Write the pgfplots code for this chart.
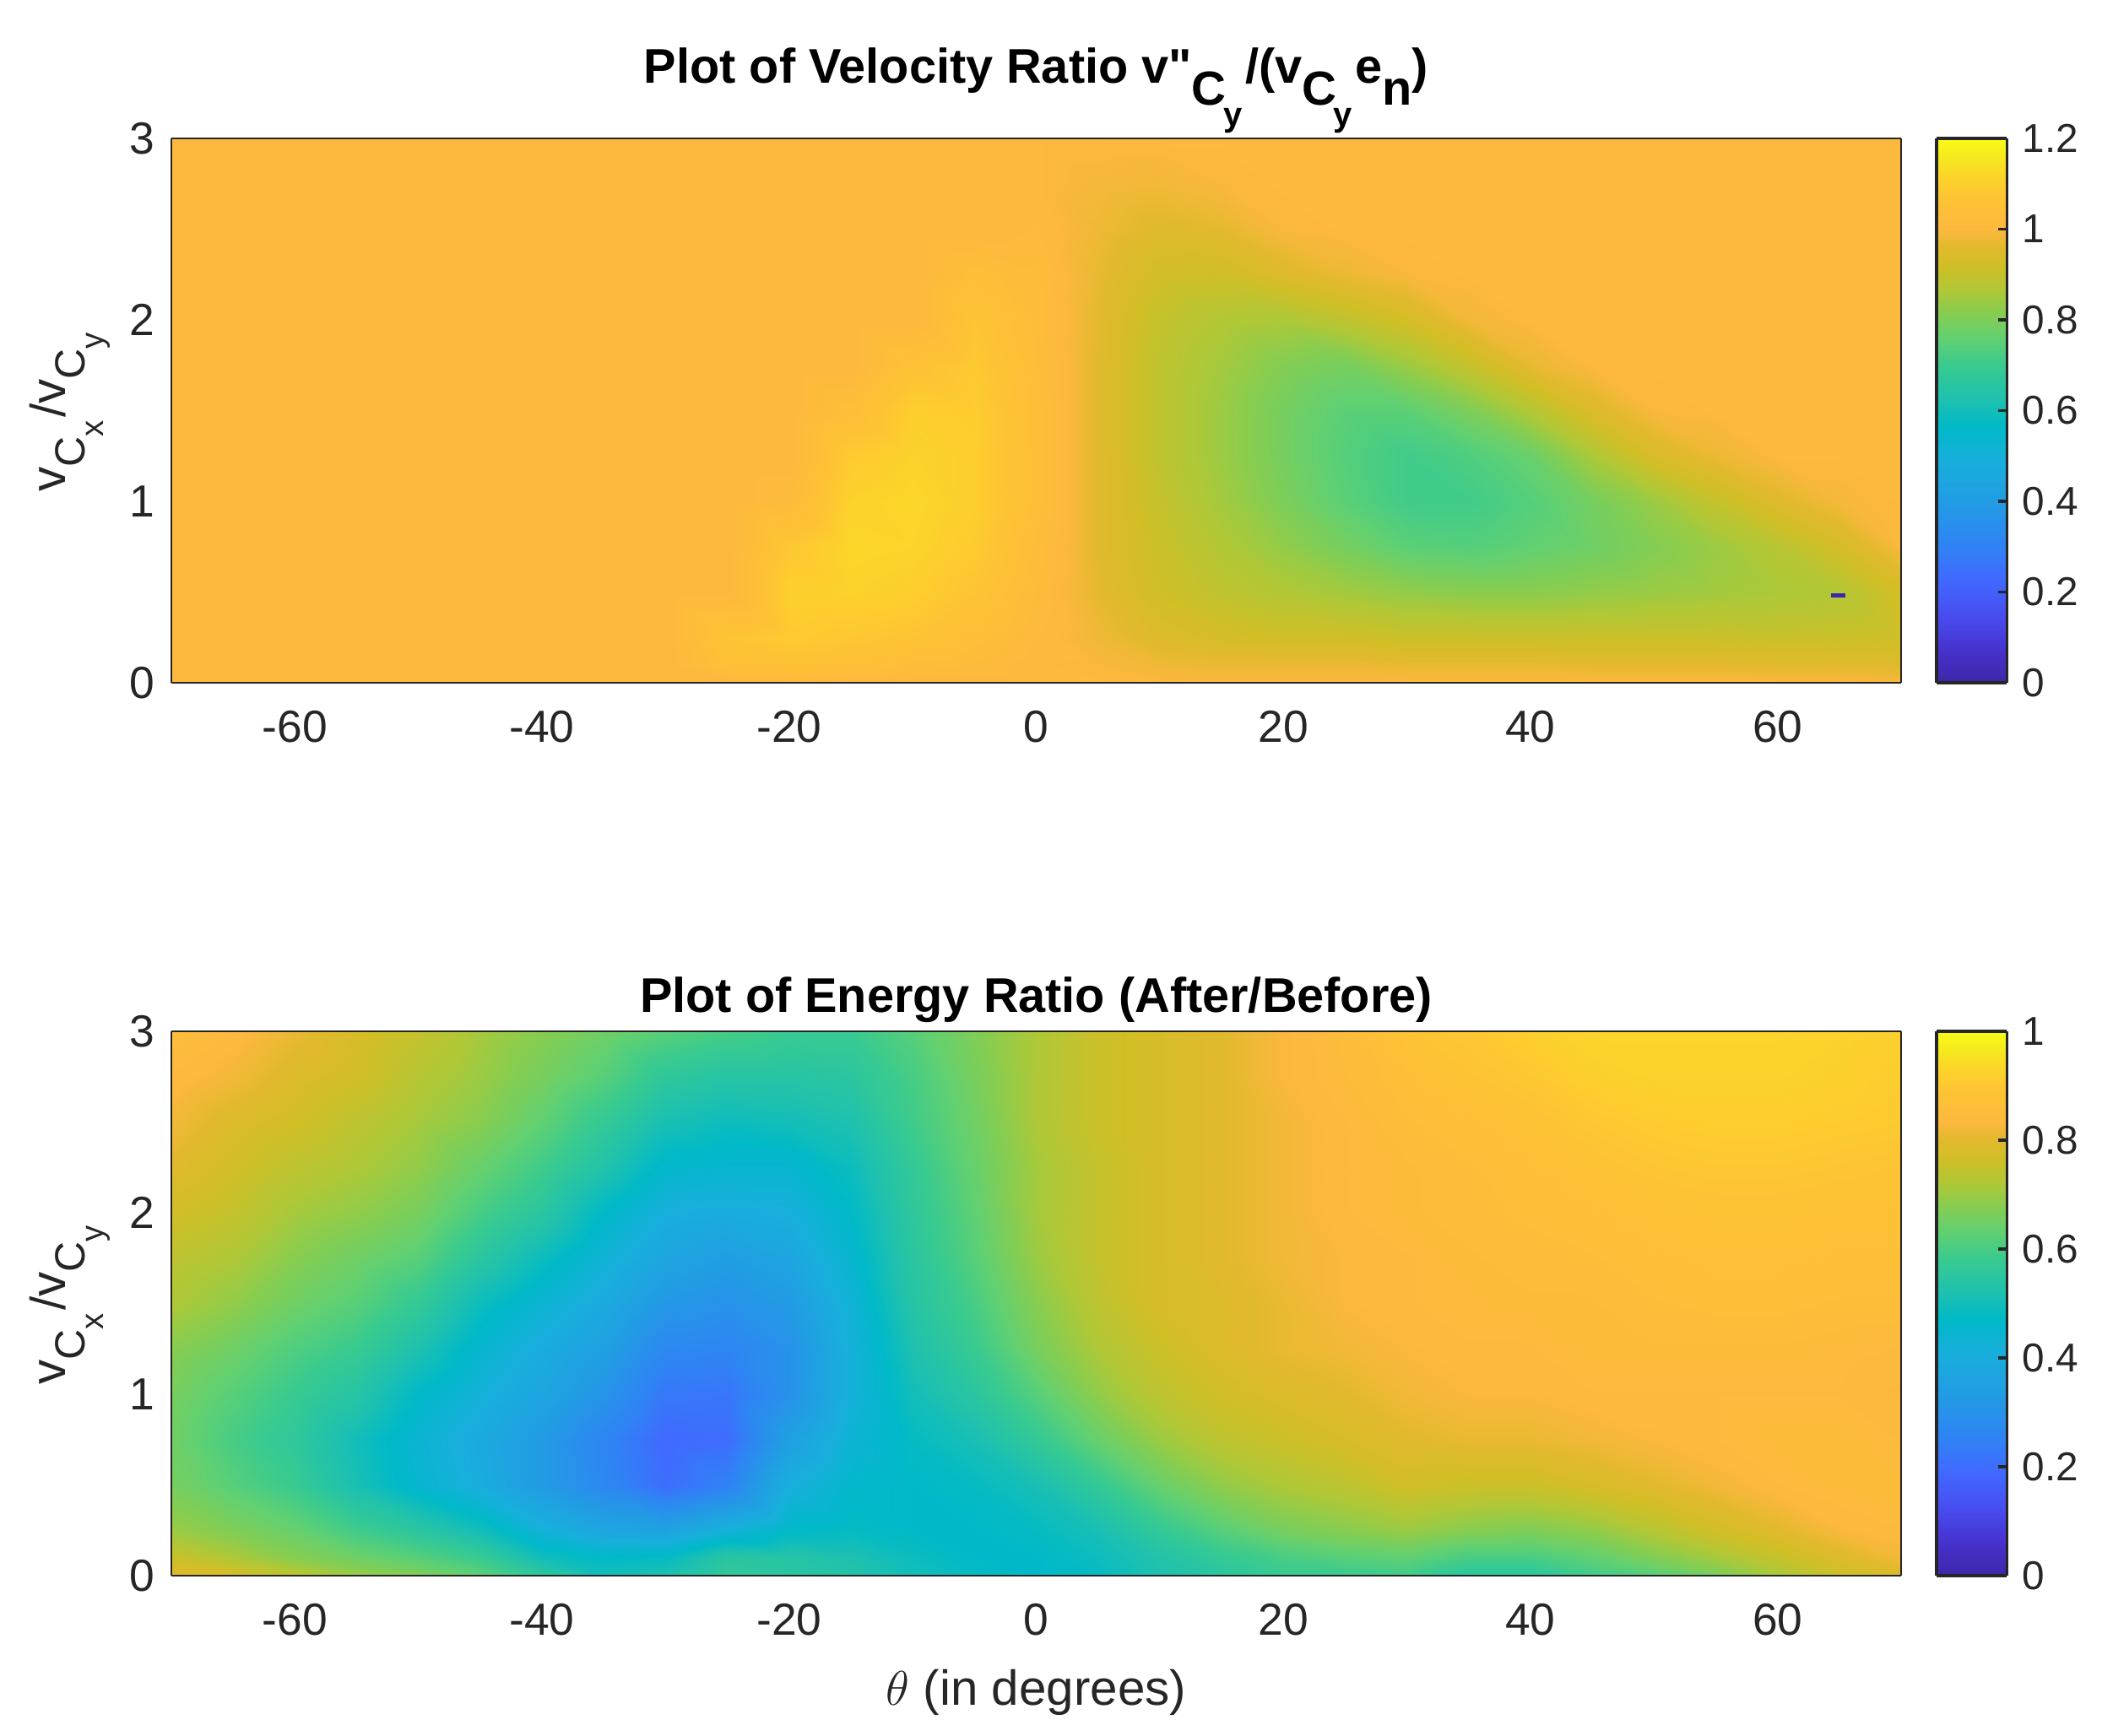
\documentclass[border=0pt]{standalone}
\usepackage{fontspec}
\setmainfont{Liberation Sans}[Ligatures=TeXOff]
\usepackage{pgfplots}
\pgfplotsset{compat=1.18}

\definecolor{txt}{RGB}{38,38,38}

\newcommand{\subC}[1]{\raisebox{-7pt}[0pt][0pt]{\fontsize{15}{15}\selectfont C\raisebox{-6.5pt}[0pt][0pt]{\fontsize{11.5}{11.5}\selectfont #1}\hspace{1pt}}}
\newcommand{\subB}[1]{\raisebox{-7.7pt}[0pt][0pt]{\fontsize{17}{17}\selectfont C\hspace{-1pt}\raisebox{-7.5pt}[0pt][0pt]{\fontsize{12}{12}\selectfont #1}\hspace{1pt}}}

\pgfplotsset{
  colormap={brightparula}{
    rgb255(0pt)=(62,38,168) rgb255(6pt)=(70,50,205) rgb255(12pt)=(72,75,238)
    rgb255(19pt)=(65,105,255) rgb255(25pt)=(48,130,245) rgb255(33pt)=(34,155,228)
    rgb255(41pt)=(24,175,220) rgb255(47pt)=(0,185,200) rgb255(52pt)=(30,193,175)
    rgb255(58pt)=(55,202,145) rgb255(63pt)=(95,208,115) rgb255(68pt)=(135,205,80)
    rgb255(72pt)=(175,200,55) rgb255(77pt)=(210,190,38) rgb255(80pt)=(225,185,45)
    rgb255(83.3pt)=(253,184,62) rgb255(89pt)=(254,195,52) rgb255(93pt)=(252,212,42)
    rgb255(97pt)=(245,235,28) rgb255(100pt)=(249,251,20)
  },
  cbar/.style={
    at={(parent axis.north east)}, anchor=north west, xshift=4.07pt,
    width=25pt, samples=201,
    ytick pos=right, tick align=inside, major tick length=3pt,
    tick style={draw=txt, line width=1pt}, axis line style={draw=txt, line width=1pt},
    yticklabel pos=right,
    yticklabel style={font=\fontsize{14.3}{16}\selectfont, text=txt, /pgf/number format/assume math mode=true, /pgf/number format/fixed, xshift=2pt},
  },
  heat/.style={
    scale only axis, width=614.7pt, height=193.5pt, view={0}{90},
    xmin=-70, xmax=70, ymin=0, ymax=3,
    xtick={-60,-40,-20,0,20,40,60}, ytick={0,1,2,3},
    tick style={draw=none}, major tick length=0pt,
    axis line style={draw=txt, line width=0.4pt},
    tick label style={font=\fontsize{16}{18}\selectfont, text=txt, /pgf/number format/assume math mode=true},
    xticklabel style={yshift=-6.5pt}, yticklabel style={xshift=-2.5pt},
    label style={font=\fontsize{17.5}{20}\selectfont, text=txt},
    title style={font=\fontsize{17.3}{20}\selectfont\bfseries, text=black},
    ylabel={v\subC{x}/v\subC{y}},
    ylabel style={at={(axis description cs:0,0.5)}, anchor=south, yshift=34pt},
    colorbar sampled,
    colormap name=brightparula,
    point meta min=0,
    surfstyle/.style={surf, shader=interp, mesh/ordering=y varies},
  },
}

\begin{document}
\begin{tikzpicture}
\path[use as bounding box] (-60.9pt,49.2pt) rectangle (690pt,-567.6pt);

\begin{axis}[heat, at={(0pt,0pt)}, anchor=north west,
  point meta max=1.2,
  title={Plot of Velocity Ratio v"\subB{y}/(v\subB{y}e\raisebox{-7.7pt}[0pt][0pt]{n})},
  title style={yshift=6.5pt},
  colorbar style={cbar, ytick={0,0.2,0.4,0.6,0.8,1,1.2}},
]
\addplot3[surfstyle] coordinates {
(-70,0,1)(-70,.1,1)(-70,.25,1)(-70,.5,1)(-70,.75,1)(-70,1,1)(-70,1.25,1)(-70,1.5,1)(-70,1.75,1)(-70,2,1)(-70,2.25,1)(-70,2.5,1)(-70,2.75,1)(-70,3,1)

(-30,0,1)(-30,.1,1)(-30,.25,1)(-30,.5,1)(-30,.75,1)(-30,1,1)(-30,1.25,1)(-30,1.5,1)(-30,1.75,1)(-30,2,1)(-30,2.25,1)(-30,2.5,1)(-30,2.75,1)(-30,3,1)

(-25,0,1)(-25,.1,1.05)(-25,.25,1.07)(-25,.5,1)(-25,.75,1)(-25,1,1)(-25,1.25,1)(-25,1.5,1)(-25,1.75,1)(-25,2,1)(-25,2.25,1)(-25,2.5,1)(-25,2.75,1)(-25,3,1)

(-20,0,1)(-20,.1,1.06)(-20,.25,1.09)(-20,.5,1.105)(-20,.75,1.08)(-20,1,1.02)(-20,1.25,1)(-20,1.5,1)(-20,1.75,1)(-20,2,1)(-20,2.25,1)(-20,2.5,1)(-20,2.75,1)(-20,3,1)

(-15,0,1)(-15,.1,1.05)(-15,.25,1.08)(-15,.5,1.11)(-15,.75,1.12)(-15,1,1.11)(-15,1.25,1.09)(-15,1.5,1.04)(-15,1.75,1)(-15,2,1)(-15,2.25,1)(-15,2.5,1)(-15,2.75,1)(-15,3,1)

(-10,0,1)(-10,.1,1.03)(-10,.25,1.07)(-10,.5,1.1)(-10,.75,1.115)(-10,1,1.12)(-10,1.25,1.11)(-10,1.5,1.1)(-10,1.75,1.06)(-10,2,1)(-10,2.25,1)(-10,2.5,1)(-10,2.75,1)(-10,3,1)

(-5,0,1)(-5,.1,1.02)(-5,.25,1.04)(-5,.5,1.07)(-5,.75,1.09)(-5,1,1.1)(-5,1.25,1.1)(-5,1.5,1.095)(-5,1.75,1.085)(-5,2,1.07)(-5,2.25,1.04)(-5,2.5,1)(-5,2.75,1)(-5,3,1)

(0,0,1)(0,.1,1)(0,.25,1.01)(0,.5,1.02)(0,.75,1.03)(0,1,1.04)(0,1.25,1.04)(0,1.5,1.04)(0,1.75,1.035)(0,2,1.03)(0,2.25,1.025)(0,2.5,1.01)(0,2.75,1)(0,3,1)

(5,0,1)(5,.1,.995)(5,.25,.98)(5,.5,.965)(5,.75,.96)(5,1,.96)(5,1.25,.96)(5,1.5,.96)(5,1.75,.96)(5,2,.965)(5,2.25,.97)(5,2.5,.98)(5,2.75,.99)(5,3,1)

(10,0,1)(10,.1,.98)(10,.25,.95)(10,.5,.92)(10,.75,.91)(10,1,.9)(10,1.25,.89)(10,1.5,.89)(10,1.75,.89)(10,2,.9)(10,2.25,.925)(10,2.5,.955)(10,2.75,.985)(10,3,1)

(15,0,1)(15,.1,.975)(15,.25,.93)(15,.5,.89)(15,.75,.87)(15,1,.85)(15,1.25,.84)(15,1.5,.84)(15,1.75,.85)(15,2,.87)(15,2.25,.92)(15,2.5,.965)(15,2.75,.995)(15,3,1)

(20,0,1)(20,.1,.975)(20,.25,.92)(20,.5,.87)(20,.75,.83)(20,1,.8)(20,1.25,.79)(20,1.5,.79)(20,1.75,.81)(20,2,.86)(20,2.25,.95)(20,2.5,.995)(20,2.75,1)(20,3,1)

(25,0,1)(25,.1,.975)(25,.25,.92)(25,.5,.85)(25,.75,.79)(25,1,.75)(25,1.25,.74)(25,1.5,.75)(25,1.75,.79)(25,2,.89)(25,2.25,.975)(25,2.5,1)(25,2.75,1)(25,3,1)

(30,0,1)(30,.1,.97)(30,.25,.91)(30,.5,.83)(30,.75,.75)(30,1,.71)(30,1.25,.71)(30,1.5,.75)(30,1.75,.84)(30,2,.93)(30,2.25,.995)(30,2.5,1)(30,2.75,1)(30,3,1)

(35,0,1)(35,.1,.97)(35,.25,.91)(35,.5,.82)(35,.75,.74)(35,1,.71)(35,1.25,.73)(35,1.5,.8)(35,1.75,.9)(35,2,.985)(35,2.25,1)(35,2.5,1)(35,2.75,1)(35,3,1)

(40,0,1)(40,.1,.97)(40,.25,.91)(40,.5,.82)(40,.75,.76)(40,1,.74)(40,1.25,.77)(40,1.5,.87)(40,1.75,.97)(40,2,1)(40,2.25,1)(40,2.5,1)(40,2.75,1)(40,3,1)

(45,0,1)(45,.1,.965)(45,.25,.91)(45,.5,.83)(45,.75,.78)(45,1,.79)(45,1.25,.86)(45,1.5,.945)(45,1.75,1)(45,2,1)(45,2.25,1)(45,2.5,1)(45,2.75,1)(45,3,1)

(50,0,1)(50,.1,.965)(50,.25,.91)(50,.5,.84)(50,.75,.81)(50,1,.84)(50,1.25,.94)(50,1.5,.995)(50,1.75,1)(50,2,1)(50,2.25,1)(50,2.5,1)(50,2.75,1)(50,3,1)

(55,0,1)(55,.1,.965)(55,.25,.91)(55,.5,.85)(55,.75,.84)(55,1,.9)(55,1.25,.975)(55,1.5,1)(55,1.75,1)(55,2,1)(55,2.25,1)(55,2.5,1)(55,2.75,1)(55,3,1)

(60,0,1)(60,.1,.96)(60,.25,.905)(60,.5,.86)(60,.75,.88)(60,1,.955)(60,1.25,1)(60,1.5,1)(60,1.75,1)(60,2,1)(60,2.25,1)(60,2.5,1)(60,2.75,1)(60,3,1)

(65,0,1)(65,.1,.96)(65,.25,.91)(65,.5,.87)(65,.75,.93)(65,1,.99)(65,1.25,1)(65,1.5,1)(65,1.75,1)(65,2,1)(65,2.25,1)(65,2.5,1)(65,2.75,1)(65,3,1)

(70,0,.995)(70,.1,.955)(70,.25,.92)(70,.5,.93)(70,.75,.995)(70,1,1)(70,1.25,1)(70,1.5,1)(70,1.75,1)(70,2,1)(70,2.25,1)(70,2.5,1)(70,2.75,1)(70,3,1)
};
\addplot3[draw={rgb,255:red,62;green,38;blue,168}, line width=1.4pt, line cap=butt, no markers] coordinates {(64.35,.48,.2)(65.5,.48,.2)};
\end{axis}

\begin{axis}[heat, at={(0pt,-317.4pt)}, anchor=north west,
  point meta max=1,
  title={Plot of Energy Ratio (After/Before)},
  title style={yshift=-6.4pt},
  xlabel={$\theta$ (in degrees)},
  xlabel style={yshift=-5pt},
  colorbar style={cbar, ytick={0,0.2,0.4,0.6,0.8,1}},
]
\addplot3[surfstyle] coordinates {
(-70,0,.8)(-70,.1,.76)(-70,.25,.7)(-70,.5,.66)(-70,.75,.65)(-70,1,.66)(-70,1.25,.68)(-70,1.5,.72)(-70,1.75,.74)(-70,2,.77)(-70,2.25,.8)(-70,2.5,.82)(-70,2.75,.84)(-70,3,.86)

(-65,0,.78)(-65,.1,.72)(-65,.25,.67)(-65,.5,.62)(-65,.75,.6)(-65,1,.62)(-65,1.25,.65)(-65,1.5,.69)(-65,1.75,.72)(-65,2,.75)(-65,2.25,.77)(-65,2.5,.79)(-65,2.75,.82)(-65,3,.84)

(-60,0,.74)(-60,.1,.68)(-60,.25,.64)(-60,.5,.58)(-60,.75,.56)(-60,1,.58)(-60,1.25,.61)(-60,1.5,.65)(-60,1.75,.68)(-60,2,.71)(-60,2.25,.74)(-60,2.5,.77)(-60,2.75,.79)(-60,3,.81)

(-55,0,.7)(-55,.1,.65)(-55,.25,.59)(-55,.5,.51)(-55,.75,.5)(-55,1,.54)(-55,1.25,.58)(-55,1.5,.62)(-55,1.75,.65)(-55,2,.69)(-55,2.25,.72)(-55,2.5,.74)(-55,2.75,.77)(-55,3,.78)

(-50,0,.67)(-50,.1,.62)(-50,.25,.55)(-50,.5,.45)(-50,.75,.44)(-50,1,.47)(-50,1.25,.52)(-50,1.5,.57)(-50,1.75,.62)(-50,2,.66)(-50,2.25,.69)(-50,2.5,.71)(-50,2.75,.73)(-50,3,.75)

(-45,0,.63)(-45,.1,.58)(-45,.25,.5)(-45,.5,.4)(-45,.75,.39)(-45,1,.42)(-45,1.25,.45)(-45,1.5,.49)(-45,1.75,.55)(-45,2,.6)(-45,2.25,.64)(-45,2.5,.68)(-45,2.75,.7)(-45,3,.71)

(-40,0,.56)(-40,.1,.5)(-40,.25,.42)(-40,.5,.33)(-40,.75,.33)(-40,1,.37)(-40,1.25,.4)(-40,1.5,.44)(-40,1.75,.49)(-40,2,.55)(-40,2.25,.59)(-40,2.5,.63)(-40,2.75,.66)(-40,3,.68)

(-35,0,.5)(-35,.1,.47)(-35,.25,.37)(-35,.5,.27)(-35,.75,.26)(-35,1,.31)(-35,1.25,.35)(-35,1.5,.39)(-35,1.75,.43)(-35,2,.47)(-35,2.25,.53)(-35,2.5,.57)(-35,2.75,.62)(-35,3,.65)

(-30,0,.52)(-30,.1,.48)(-30,.25,.36)(-30,.5,.2)(-30,.75,.19)(-30,1,.225)(-30,1.25,.27)(-30,1.5,.32)(-30,1.75,.37)(-30,2,.41)(-30,2.25,.46)(-30,2.5,.51)(-30,2.75,.56)(-30,3,.62)

(-25,0,.57)(-25,.1,.55)(-25,.25,.42)(-25,.5,.25)(-25,.75,.2)(-25,1,.22)(-25,1.25,.26)(-25,1.5,.3)(-25,1.75,.34)(-25,2,.4)(-25,2.25,.45)(-25,2.5,.49)(-25,2.75,.54)(-25,3,.6)

(-20,0,.55)(-20,.1,.54)(-20,.25,.47)(-20,.5,.41)(-20,.75,.35)(-20,1,.3)(-20,1.25,.3)(-20,1.5,.33)(-20,1.75,.37)(-20,2,.41)(-20,2.25,.45)(-20,2.5,.5)(-20,2.75,.54)(-20,3,.58)

(-15,0,.53)(-15,.1,.52)(-15,.25,.48)(-15,.5,.46)(-15,.75,.44)(-15,1,.42)(-15,1.25,.42)(-15,1.5,.43)(-15,1.75,.45)(-15,2,.47)(-15,2.25,.49)(-15,2.5,.52)(-15,2.75,.55)(-15,3,.58)

(-10,0,.5)(-10,.1,.49)(-10,.25,.47)(-10,.5,.47)(-10,.75,.48)(-10,1,.5)(-10,1.25,.52)(-10,1.5,.54)(-10,1.75,.55)(-10,2,.56)(-10,2.25,.57)(-10,2.5,.59)(-10,2.75,.6)(-10,3,.62)

(-5,0,.48)(-5,.1,.47)(-5,.25,.47)(-5,.5,.48)(-5,.75,.51)(-5,1,.55)(-5,1.25,.58)(-5,1.5,.6)(-5,1.75,.62)(-5,2,.63)(-5,2.25,.64)(-5,2.5,.65)(-5,2.75,.66)(-5,3,.67)

(0,0,.47)(0,.1,.47)(0,.25,.48)(0,.5,.51)(0,.75,.57)(0,1,.62)(0,1.25,.66)(0,1.5,.68)(0,1.75,.7)(0,2,.71)(0,2.25,.71)(0,2.5,.72)(0,2.75,.72)(0,3,.72)

(5,0,.48)(5,.1,.49)(5,.25,.51)(5,.5,.57)(5,.75,.64)(5,1,.69)(5,1.25,.72)(5,1.5,.74)(5,1.75,.75)(5,2,.75)(5,2.25,.75)(5,2.5,.76)(5,2.75,.76)(5,3,.76)

(10,0,.52)(10,.1,.53)(10,.25,.57)(10,.5,.64)(10,.75,.7)(10,1,.74)(10,1.25,.76)(10,1.5,.78)(10,1.75,.78)(10,2,.78)(10,2.25,.78)(10,2.5,.78)(10,2.75,.78)(10,3,.78)

(15,0,.55)(15,.1,.57)(15,.25,.62)(15,.5,.69)(15,.75,.74)(15,1,.77)(15,1.25,.79)(15,1.5,.79)(15,1.75,.8)(15,2,.8)(15,2.25,.8)(15,2.5,.8)(15,2.75,.8)(15,3,.8)

(20,0,.58)(20,.1,.6)(20,.25,.66)(20,.5,.72)(20,.75,.76)(20,1,.79)(20,1.25,.81)(20,1.5,.81)(20,1.75,.82)(20,2,.82)(20,2.25,.82)(20,2.5,.82)(20,2.75,.83)(20,3,.83)

(25,0,.58)(25,.1,.62)(25,.25,.68)(25,.5,.74)(25,.75,.78)(25,1,.8)(25,1.25,.82)(25,1.5,.83)(25,1.75,.83)(25,2,.84)(25,2.25,.84)(25,2.5,.84)(25,2.75,.85)(25,3,.855)

(30,0,.59)(30,.1,.63)(30,.25,.7)(30,.5,.77)(30,.75,.8)(30,1,.82)(30,1.25,.83)(30,1.5,.84)(30,1.75,.84)(30,2,.85)(30,2.25,.85)(30,2.5,.86)(30,2.75,.87)(30,3,.89)

(35,0,.55)(35,.1,.6)(35,.25,.68)(35,.5,.76)(35,.75,.81)(35,1,.83)(35,1.25,.84)(35,1.5,.845)(35,1.75,.85)(35,2,.855)(35,2.25,.86)(35,2.5,.87)(35,2.75,.89)(35,3,.9)

(40,0,.55)(40,.1,.6)(40,.25,.67)(40,.5,.76)(40,.75,.81)(40,1,.83)(40,1.25,.84)(40,1.5,.85)(40,1.75,.855)(40,2,.865)(40,2.25,.87)(40,2.5,.885)(40,2.75,.9)(40,3,.92)

(45,0,.59)(45,.1,.63)(45,.25,.69)(45,.5,.78)(45,.75,.82)(45,1,.84)(45,1.25,.85)(45,1.5,.85)(45,1.75,.86)(45,2,.87)(45,2.25,.885)(45,2.5,.9)(45,2.75,.92)(45,3,.93)

(50,0,.62)(50,.1,.67)(50,.25,.73)(50,.5,.8)(50,.75,.83)(50,1,.84)(50,1.25,.85)(50,1.5,.86)(50,1.75,.87)(50,2,.88)(50,2.25,.895)(50,2.5,.91)(50,2.75,.925)(50,3,.93)

(55,0,.66)(55,.1,.71)(55,.25,.77)(55,.5,.82)(55,.75,.84)(55,1,.84)(55,1.25,.85)(55,1.5,.865)(55,1.75,.875)(55,2,.885)(55,2.25,.9)(55,2.5,.915)(55,2.75,.925)(55,3,.93)

(60,0,.71)(60,.1,.75)(60,.25,.8)(60,.5,.84)(60,.75,.85)(60,1,.84)(60,1.25,.85)(60,1.5,.865)(60,1.75,.875)(60,2,.885)(60,2.25,.9)(60,2.5,.915)(60,2.75,.925)(60,3,.93)

(65,0,.76)(65,.1,.79)(65,.25,.83)(65,.5,.85)(65,.75,.85)(65,1,.84)(65,1.25,.845)(65,1.5,.86)(65,1.75,.87)(65,2,.88)(65,2.25,.895)(65,2.5,.91)(65,2.75,.92)(65,3,.925)

(70,0,.79)(70,.1,.82)(70,.25,.84)(70,.5,.85)(70,.75,.84)(70,1,.83)(70,1.25,.84)(70,1.5,.86)(70,1.75,.87)(70,2,.88)(70,2.25,.89)(70,2.5,.905)(70,2.75,.91)(70,3,.92)
};
\end{axis}
\end{tikzpicture}
\end{document}
